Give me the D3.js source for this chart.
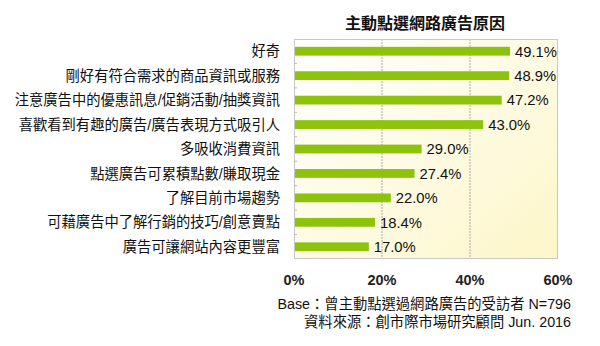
<!DOCTYPE html>
<html><head><meta charset="utf-8">
<script src="https://cdn.jsdelivr.net/npm/d3@7"></script>
<style>body{margin:0;background:#fff}svg{display:block}text{font-family:"Liberation Sans","Noto Sans CJK TC",sans-serif}</style>
</head><body><svg id="c" width="600" height="346"></svg>
<script>
const categories = ["好奇","剛好有符合需求的商品資訊或服務","注意廣告中的優惠訊息/促銷活動/抽獎資訊","喜歡看到有趣的廣告/廣告表現方式吸引人","多吸收消費資訊","點選廣告可累積點數/賺取現金","了解目前市場趨勢","可藉廣告中了解行銷的技巧/創意賣點","廣告可讓網站內容更豐富"];
const values = [49.1,48.9,47.2,43.0,29.0,27.4,22.0,18.4,17.0];
const xTicks = [0,20,40,60];
const title = "主動點選網路廣告原因";
const notes = ["Base：曾主動點選過網路廣告的受訪者 N=796","資料來源：創市際市場研究顧問 Jun. 2016"];

const svg = d3.select("#c");
const L=294, R=558, T=39, B=259;
const x = d3.scaleLinear().domain([0,60]).range([L,R]);
const y = d3.scaleBand().domain(categories).range([T,B]).paddingInner(0.64).paddingOuter(0.32);

const defs = svg.append("defs");
const g = defs.append("linearGradient").attr("id","bg").attr("x1","0").attr("y1","0").attr("x2","1").attr("y2","1");
g.append("stop").attr("offset","0").attr("stop-color","#ffffff");
g.append("stop").attr("offset","1").attr("stop-color","#fdf6c8");

svg.append("rect").attr("x",L).attr("y",T).attr("width",R-L).attr("height",B-T).attr("fill","url(#bg)");
svg.append("g").selectAll("line").data(xTicks.slice(1,-1)).join("line")
  .attr("x1",d=>x(d)).attr("x2",d=>x(d)).attr("y1",T).attr("y2",B)
  .attr("stroke","#aaa").attr("stroke-dasharray","2,1").attr("stroke-width",1);
svg.append("rect").attr("x",L+0.5).attr("y",T+0.5).attr("width",R-L-1).attr("height",B-T-1).attr("fill","none").attr("stroke","#c8c8c8");
svg.append("g").selectAll("line").data(d3.range(1,categories.length)).join("line")
  .attr("x1",L).attr("x2",L+3).attr("y1",d=>T+d*(B-T)/categories.length).attr("y2",d=>T+d*(B-T)/categories.length)
  .attr("stroke","#bbb");

svg.append("g").selectAll("rect").data(values).join("rect")
  .attr("x",x(0)+1).attr("y",(d,i)=>y(categories[i])).attr("height",y.bandwidth())
  .attr("width",d=>x(d)-x(0)-1).attr("fill","#8dc30c");

svg.append("g").selectAll("text").data(values).join("text")
  .attr("x",d=>x(d)+5).attr("y",(d,i)=>y(categories[i])+y.bandwidth()/2).attr("dy","0.36em")
  .attr("font-size",14.8).attr("fill","#111").text(d=>d.toFixed(1)+"%");

svg.append("g").selectAll("text").data(categories).join("text")
  .attr("x",280).attr("y",d=>y(d)+y.bandwidth()/2).attr("dy","0.36em").attr("text-anchor","end")
  .attr("font-size",14.3).attr("fill","#111").text(d=>d);

svg.append("g").selectAll("text").data(xTicks).join("text")
  .attr("x",d=>x(d)).attr("y",285).attr("text-anchor","middle").attr("font-size",14.5).attr("font-weight","bold")
  .attr("fill","#222").text(d=>d+"%");

svg.append("text").attr("x",425).attr("y",29).attr("text-anchor","middle").attr("font-size",16).attr("font-weight","bold").attr("fill","#111").text(title);

svg.append("g").selectAll("text").data(notes).join("text")
  .attr("x",571).attr("y",(d,i)=>309+i*18).attr("text-anchor","end").attr("font-size",14.3).attr("fill","#111").text(d=>d);
</script></body></html>
